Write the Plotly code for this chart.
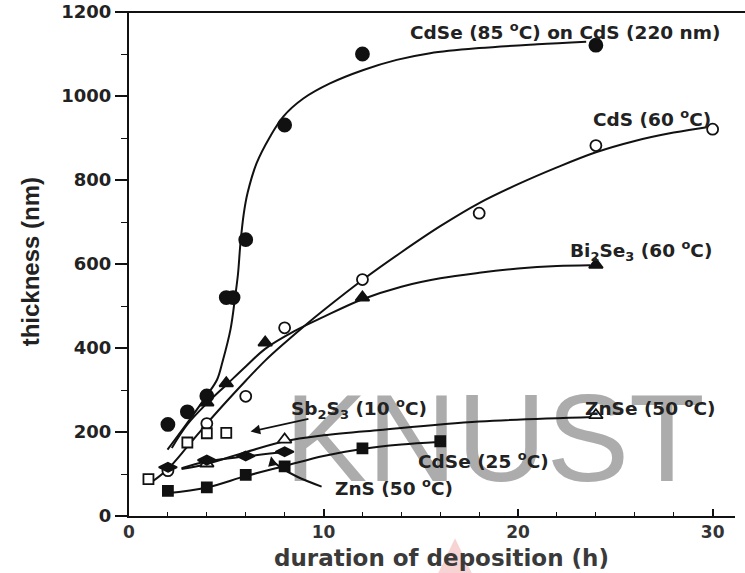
import plotly.graph_objects as go

# ---------------- data ----------------
# measured points
cdse85_x = [2, 3, 4, 5, 5.35, 6, 8, 12, 24]
cdse85_y = [218, 248, 286, 520, 520, 658, 931, 1100, 1121]

cds_x = [2, 4, 6, 8, 12, 18, 24, 30]
cds_y = [108, 220, 285, 448, 563, 721, 882, 921]

bi2se3_x = [4, 5, 7, 12, 24]
bi2se3_y = [270, 316, 413, 520, 598]

sb2s3_x = [1, 3, 4, 5]
sb2s3_y = [88, 175, 197, 198]

znse_x = [4, 8, 24]
znse_y = [125, 182, 240]

zns_x = [2, 4, 6, 8]
zns_y = [116, 133, 143, 153]

cdse25_x = [2, 4, 6, 8, 12, 16]
cdse25_y = [60, 68, 98, 118, 161, 178]

# fitted (hand-drawn) curves
cdse85_fit_x = [1.98, 3.0, 4.03, 4.53, 4.8, 5.22, 5.45, 5.6, 5.73, 5.9, 6.1, 6.56, 7.25, 7.93, 8.96, 10.33, 12.05, 13.76, 15.48, 18.0, 21.0, 23.5]
cdse85_fit_y = [158, 222, 289, 325, 366, 445, 520, 575, 650, 720, 770, 840, 903, 951, 994, 1030, 1062, 1086, 1102, 1114, 1123, 1129]

cds_fit_x = [1.2, 2, 3, 4, 5, 6, 7, 8, 9, 10, 12, 14, 16, 18, 20, 22, 24, 26, 28, 29.87]
cds_fit_y = [82, 112, 165, 220, 272, 322, 370, 412, 452, 490, 562, 628, 690, 745, 790, 830, 866, 893, 913, 927]

bi2se3_fit_x = [2.2, 3, 4, 5, 6, 7, 8.5, 10, 12, 14, 16, 18, 20, 22, 23.7]
bi2se3_fit_y = [162, 218, 268, 312, 356, 398, 440, 474, 516, 546, 566, 579, 589, 595, 597]

znse_fit_x = [2.7, 4, 6, 8, 10, 12.9, 18, 23.9]
znse_fit_y = [112, 124, 152, 178, 192, 205, 225, 236]

zns_fit_x = [2.7, 4, 6, 8.3]
zns_fit_y = [114, 130, 142, 154]

cdse25_fit_x = [1.9, 4, 6, 8, 10, 11.9, 14, 15.9]
cdse25_fit_y = [54, 68, 95, 119, 143, 159, 170, 176]

# curved pointer from the ZnS label
zns_arrow_x = [9.9, 8.62, 7.76, 7.34]
zns_arrow_y = [70, 94, 117, 133]

x_tick_vals = [0, 10, 20, 30]
y_tick_vals = [0, 200, 400, 600, 800, 1000, 1200]

labels = [
    ("CdSe (85 <sup>o</sup>C) on CdS (220 nm)", 22.4, 1155),
    ("CdS (60 <sup>o</sup>C)", 26.9, 948),
    ("Bi<sub>2</sub>Se<sub>3</sub> (60 <sup>o</sup>C)", 26.3, 633),
    ("Sb<sub>2</sub>S<sub>3</sub> (10 <sup>o</sup>C)", 11.8, 257),
    ("ZnSe (50 <sup>o</sup>C)", 26.8, 260),
    ("CdSe (25 <sup>o</sup>C)", 18.2, 133),
    ("ZnS (50 <sup>o</sup>C)", 13.6, 69),
]

watermark_text = "KNUST"
watermark_x = [18.8]
watermark_y = [157]

INK = "#111111"
FONT = "DejaVu Sans"

fig = go.Figure()

# watermark drawn first so that the curves lie over it
fig.add_trace(go.Scatter(x=watermark_x, y=watermark_y, mode="text", text=[watermark_text],
                         textposition="middle center", hoverinfo="skip", showlegend=False,
                         textfont=dict(family="Liberation Sans", size=124, color="rgba(140,140,140,0.72)")))

def fit(x, y):
    fig.add_trace(go.Scatter(x=x, y=y, mode="lines",
                             line=dict(color=INK, width=2, shape="spline", smoothing=1.0),
                             hoverinfo="skip", showlegend=False))

def pts(x, y, symbol, size, filled=True):
    fig.add_trace(go.Scatter(
        x=x, y=y, mode="markers", showlegend=False,
        marker=dict(symbol=symbol, size=size,
                    color=INK if filled else "white",
                    line=dict(color=INK, width=1.8))))

for fx, fy in [(cdse85_fit_x, cdse85_fit_y), (cds_fit_x, cds_fit_y), (bi2se3_fit_x, bi2se3_fit_y),
               (znse_fit_x, znse_fit_y), (zns_fit_x, zns_fit_y), (cdse25_fit_x, cdse25_fit_y),
               (zns_arrow_x, zns_arrow_y)]:
    fit(fx, fy)

pts(cdse85_x, cdse85_y, "circle", 13)
pts(cds_x, cds_y, "circle", 11, filled=False)
pts(bi2se3_x, bi2se3_y, "triangle-up", 12)
pts(sb2s3_x, sb2s3_y, "square", 10, filled=False)
pts(znse_x, znse_y, "triangle-up", 12, filled=False)
pts(zns_x, zns_y, "diamond-wide", 13)
pts(cdse25_x, cdse25_y, "square", 10)

annotations = []
for txt, lx, ly in labels:
    annotations.append(dict(x=lx, y=ly, xref="x", yref="y", text=txt, showarrow=False,
                            xanchor="center", yanchor="middle",
                            font=dict(family=FONT, size=18.5, color="#222222", weight="bold")))

# Sb2S3 pointer
annotations.append(dict(x=6.25, y=201, ax=9.3, ay=232, xref="x", yref="y", axref="x", ayref="y",
                        text="", showarrow=True, arrowhead=2, arrowsize=1.2, arrowwidth=1.6, arrowcolor=INK))
# ZnS pointer head
annotations.append(dict(x=7.3, y=142, ax=7.36, ay=128, xref="x", yref="y", axref="x", ayref="y",
                        text="", showarrow=True, arrowhead=2, arrowsize=1.2, arrowwidth=1.6, arrowcolor=INK))

# axis titles
annotations.append(dict(x=0.515, y=-0.083, xref="paper", yref="paper", text="duration of deposition (h)",
                        xanchor="center", yanchor="middle", showarrow=False,
                        font=dict(family=FONT, size=23, color="#3a3a3a", weight="bold")))
annotations.append(dict(x=-0.162, y=0.505, xref="paper", yref="paper", text="thickness (nm)", textangle=-90,
                        xanchor="center", yanchor="middle", showarrow=False,
                        font=dict(family="Liberation Sans", size=24, color="#222222", weight="bold")))

shapes = [
    dict(type="line", xref="paper", yref="paper", x0=-0.022, x1=1.02, y0=1, y1=1,
         line=dict(color=INK, width=2)),
    dict(type="path", xref="paper", yref="paper", layer="below",
         path="M 0.538 -0.044 L 0.51 -0.114 L 0.566 -0.114 Z",
         fillcolor="rgba(230,110,110,0.3)", line=dict(width=0)),
]

fig.update_layout(
    width=745, height=573,
    margin=dict(l=129, r=10, t=12, b=57, autoexpand=False),
    plot_bgcolor="white", paper_bgcolor="white",
    annotations=annotations, shapes=shapes,
    xaxis=dict(range=[0, 31.15], tickvals=x_tick_vals, showgrid=False, zeroline=False, automargin=False,
               showline=True, linecolor=INK, linewidth=2, ticks="inside", ticklen=7, tickwidth=1.5,
               tickcolor=INK,
               minor=dict(dtick=2, ticks="inside", ticklen=4, tickwidth=1.2, tickcolor=INK),
               tickfont=dict(family=FONT, size=17, color="#333333", weight="bold")),
    yaxis=dict(range=[0, 1200], tickvals=y_tick_vals, showgrid=False, zeroline=False, automargin=False,
               showline=True, linecolor=INK, linewidth=2, ticks="outside", ticklen=12, tickwidth=1.5,
               tickcolor=INK,
               minor=dict(dtick=100, ticks="outside", ticklen=6, tickwidth=1.2, tickcolor=INK),
               tickfont=dict(family=FONT, size=18, color="#222222", weight="bold")),
)

fig.write_html("out.html", config={"displayModeBar": False},
               post_script="document.body.style.margin='0px';")
